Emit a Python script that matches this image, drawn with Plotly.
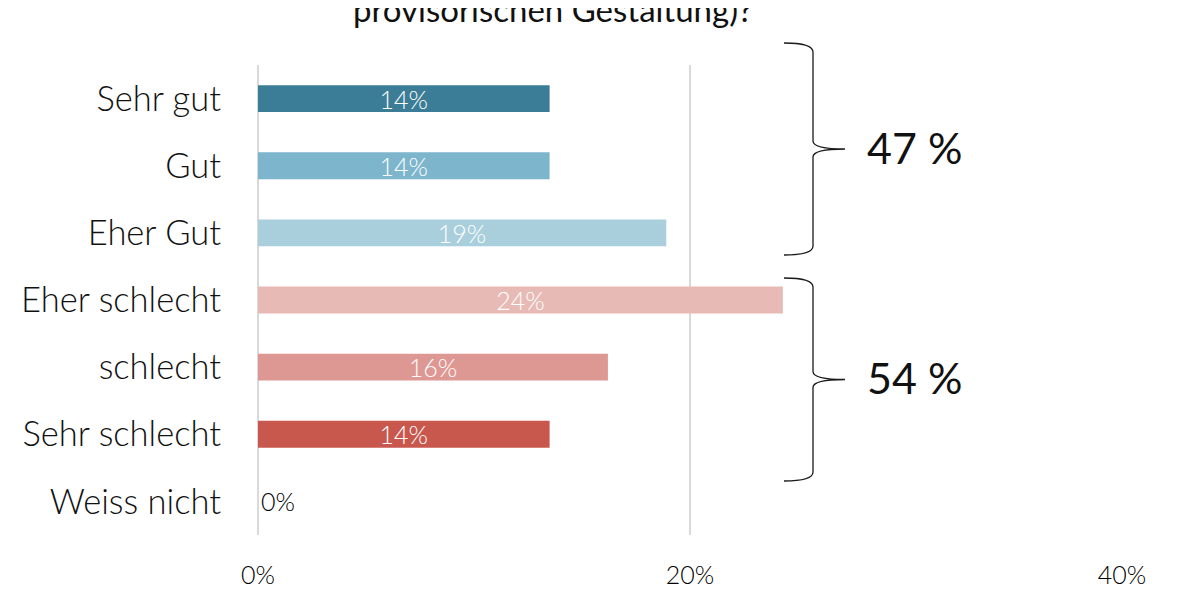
import plotly.graph_objects as go

# Antworten (Anteile in %), Reihenfolge von oben nach unten
kategorien = ['Sehr gut', 'Gut', 'Eher Gut', 'Eher schlecht', 'schlecht',
              'Sehr schlecht', 'Weiss nicht']
anteile = [13.5, 13.5, 18.9, 24.3, 16.2, 13.5, 0]
farben = ['#3b7c96', '#7db5cc', '#a9cfdd', '#e8bab5', '#de9893',
          '#c8574d', '#c8574d']

gruppen_text = ['47 %', '54 %']
titel = 'provisorischen Gestaltung)?'
x_ticks = [0, 20, 40]
x_ticktext = ['0%', '20%', '40%']

W, H = 1178, 590
# die Seite hat ~8px Rand, daher etwas verschoben
OX, OY = 8, 8
L, T = 258 - OX, 65 - OY
PW, PH = 864, 470
R, B = W - L - PW, H - T - PH

FONT = 'Lato'


def px_x(x):
    return (x - OX - L) / PW


def px_y(y):
    return (T + PH - (y - OY)) / PH


def klammer(top, bottom, x0=784, xs=813, xt=845):
    # geschweifte Klammer, Pixelkoordinaten (Bildschirm) -> Papierkoordinaten
    mid = (top + bottom) / 2
    p = [
        ('M', x0, top), ('Q', xs, top), ('', xs, top + 9),
        ('L', xs, mid - 8), ('Q', xs, mid), ('', xt, mid),
        ('Q', xs, mid), ('', xs, mid + 8),
        ('L', xs, bottom - 9), ('Q', xs, bottom), ('', x0, bottom),
    ]
    s = ''
    for cmd, x, y in p:
        s += f'{cmd}{px_x(x):.5f},{px_y(y):.5f} '
    return s.strip(), mid


fig = go.Figure(go.Bar(
    y=kategorien, x=anteile, orientation='h',
    marker=dict(color=farben, line=dict(width=0)),
    width=0.4,
    texttemplate='%{x:.0f}%',
    textposition=['inside'] * 6 + ['outside'],
    constraintext='none',
    insidetextanchor='middle',
    insidetextfont=dict(color='white', size=25, family=FONT, weight=300),
    outsidetextfont=dict(color='#000000', size=25, family=FONT, weight=300),
    cliponaxis=False,
))

for (top, bottom), txt in zip([(43, 255), (278, 481)], gruppen_text):
    path, mid = klammer(top, bottom)
    fig.add_shape(type='path', path=path, xref='paper', yref='paper',
                  line=dict(color='#1a1a1a', width=1.3))
    fig.add_annotation(text=txt, xref='paper', yref='paper',
                       x=px_x(865), y=px_y(mid - 2), xanchor='left',
                       yanchor='middle', showarrow=False,
                       font=dict(size=43, color='#111111', family=FONT))

fig.add_annotation(text=titel, xref='paper', yref='paper',
                   x=px_x(553), y=px_y(31), xanchor='center',
                   yanchor='bottom', showarrow=False,
                   font=dict(size=33, color='#111111', family=FONT))

fig.update_layout(
    width=W, height=H,
    margin=dict(l=L, r=R, t=T, b=B, autoexpand=False),
    plot_bgcolor='white', paper_bgcolor='white',
    showlegend=False,
    bargap=0.6,
    xaxis=dict(range=[0, 40], tickmode='array', tickvals=x_ticks,
               ticktext=x_ticktext,
               showgrid=True, gridcolor='#d9d9d9', gridwidth=2,
               zeroline=True, zerolinecolor='#d9d9d9', zerolinewidth=2,
               showline=False, ticklabelstandoff=23,
               tickfont=dict(size=25, color='#000000', family=FONT,
                             weight=300)),
    yaxis=dict(categoryorder='array', categoryarray=kategorien,
               autorange='reversed', showgrid=False, showline=False,
               ticklabelstandoff=36,
               tickfont=dict(size=34.5, color='#111111', family=FONT,
                             weight=300)),
)

fig.write_html('out.html')
